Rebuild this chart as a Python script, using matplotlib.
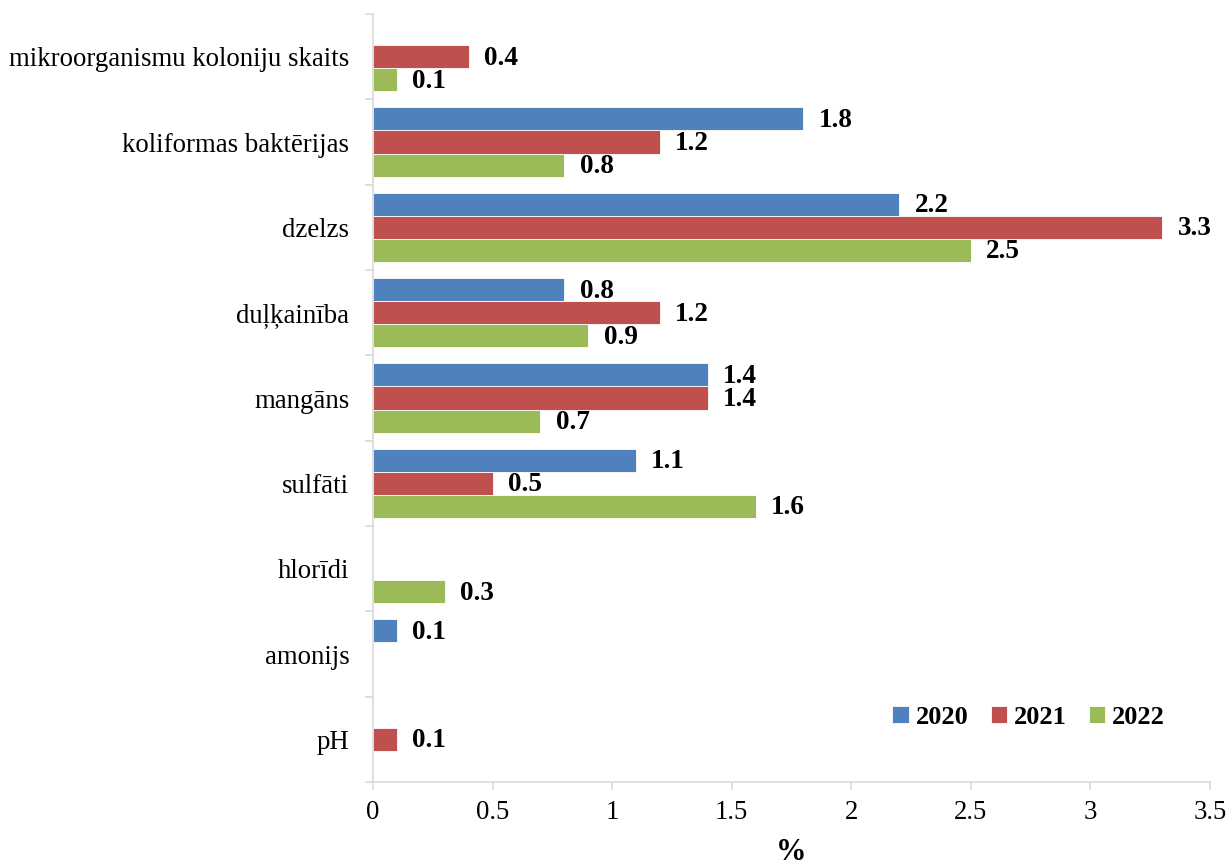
import numpy as np
import matplotlib
matplotlib.use("Agg")
import matplotlib.pyplot as plt
from matplotlib.ticker import FixedLocator

categories = ["mikroorganismu koloniju skaits", "koliformas baktērijas", "dzelzs",
              "duļķainība", "mangāns", "sulfāti", "hlorīdi", "amonijs", "pH"]
years = ["2020", "2021", "2022"]
v2020 = [np.nan, 1.8, 2.2, 0.8, 1.4, 1.1, np.nan, 0.1, np.nan]
v2021 = [0.4, 1.2, 3.3, 1.2, 1.4, 0.5, np.nan, np.nan, 0.1]
v2022 = [0.1, 0.8, 2.5, 0.9, 0.7, 1.6, 0.3, np.nan, np.nan]
xticks = [0, 0.5, 1, 1.5, 2, 2.5, 3, 3.5]
xticklabels = ["0", "0.5", "1", "1.5", "2", "2.5", "3", "3.5"]

colors = ["#4F81BD", "#C0504D", "#9BBB59"]
plt.rcParams['font.family'] = ['Liberation Serif', 'DejaVu Serif']

fig = plt.figure(figsize=(12.27, 8.66), dpi=100)
ax = fig.add_axes([373/1227, 1-782/866, (1210-373)/1227, (782-14)/866])

y = np.arange(len(categories))
h = 0.27
series = [v2020, v2021, v2022]
for i, (vals, col, lab) in enumerate(zip(series, colors, years)):
    vals = np.array(vals, dtype=float)
    mask = ~np.isnan(vals)
    pos = y[mask] + (i - 1) * h
    ax.barh(pos, vals[mask], height=h, color=col, label=lab,
            edgecolor="white", linewidth=0.6)
    for p, v in zip(pos, vals[mask]):
        ax.annotate(f"{v:.1f}", xy=(v, p), xytext=(11, -1), textcoords="offset points",
                    ha="left", va="center", fontsize=19.5, fontweight="bold")

ax.set_ylim(len(categories) - 0.5, -0.5)
ax.set_xlim(0, 3.5)
ax.set_yticks(y)
ax.set_yticklabels(categories, fontsize=19.3)
ax.yaxis.set_minor_locator(FixedLocator(np.arange(-0.5, len(categories), 1.0)))
ax.tick_params(axis="y", which="major", length=0, pad=17)
ax.tick_params(axis="y", which="minor", length=6, color="#D9D9D9", width=1.2)
ax.set_xticks(xticks)
ax.set_xticklabels(xticklabels, fontsize=19.3)
ax.tick_params(axis="x", length=6, color="#D9D9D9", width=1.2, pad=7)

for s in ["top", "right"]:
    ax.spines[s].set_visible(False)
for s in ["left", "bottom"]:
    ax.spines[s].set_color("#D9D9D9")
    ax.spines[s].set_linewidth(1.2)

ax.set_xlabel("%", fontsize=22, fontweight="bold", labelpad=9)

leg = ax.legend(loc="center right", bbox_to_anchor=(0.9585, 0.084), ncol=3, frameon=False,
                prop={"size": 19, "weight": "bold"}, handlelength=0.62, handleheight=0.62,
                handletextpad=0.25, columnspacing=0.85, borderaxespad=0)

fig.savefig("out.png", dpi=100)
